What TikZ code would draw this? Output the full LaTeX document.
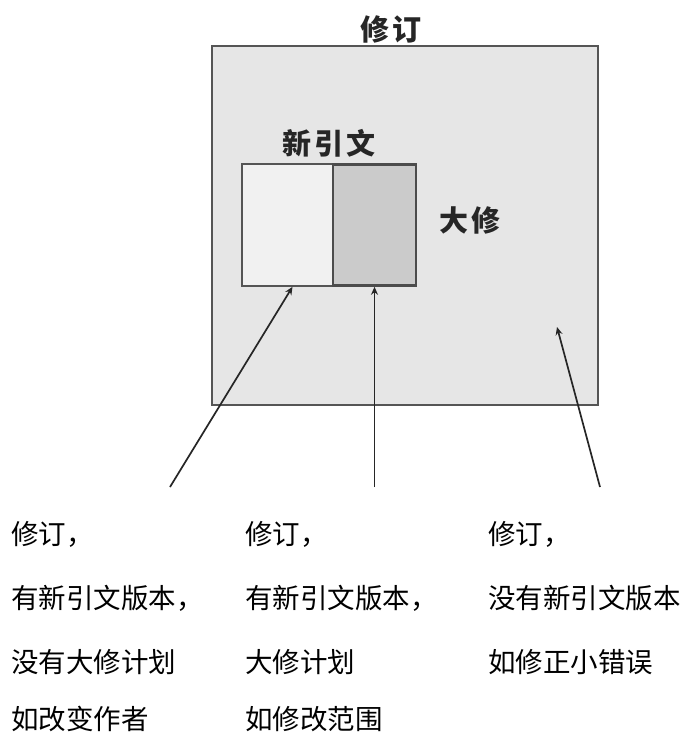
\documentclass[tikz,border=0pt]{standalone}
\usepackage{fontspec}
\setmainfont{Liberation Serif}
\newfontfamily\cjk{Noto Sans CJK SC}
\usetikzlibrary{arrows.meta}
\definecolor{outerfill}{HTML}{E6E6E6}
\definecolor{lightfill}{HTML}{F1F1F1}
\definecolor{darkfill}{HTML}{CBCBCB}
\definecolor{edge}{HTML}{555555}
\tikzset{
  box/.style={draw=edge, line width=1.6pt, inner sep=0pt},
  boldlabel/.style={font=\cjk\bfseries\fontsize{29}{32}\selectfont, text=black!85, inner sep=0pt},
  note/.style={font=\cjk\fontsize{27.5}{31}\selectfont, anchor=west, inner sep=0pt},
  arr/.style={draw=black!85, line width=1.7pt, -{Stealth[length=8pt,width=7pt]}}
}
\begin{document}
\begin{tikzpicture}[x=1pt,y=-1pt]
\useasboundingbox[fill=white] (0,0) rectangle (684,735);
% boxes
\node[box, fill=outerfill, minimum width=386pt, minimum height=359pt] (rev) at (405,225.5) {};
\node[box, fill=lightfill, minimum width=91pt, minimum height=122pt] (newc) at (287.5,225) {};
\node[box, fill=darkfill, draw=black!70, line width=2.6pt, minimum width=83pt, minimum height=121pt] (major) at (374.5,225) {};
% labels
\node[boldlabel] (t) at (391,29) {修\kern4pt 订};
\node[boldlabel] (tn) at (329,143) {新\kern3pt 引\kern3pt 文};
\node[boldlabel] (tm) at (470,220) {大\kern3pt 修};
% arrow tails / free tip
\coordinate (a1) at (170,487);
\coordinate (a2) at (374.5,487);
\coordinate (a3) at (600,487);
\coordinate (t3) at (557,327);
\draw[arr] (a1) -- ([xshift=5pt]newc.south);
\draw[arr] (a2) -- (major.south);
\draw[arr] (a3) -- (t3);
% notes
\node[note] (c1r1) at (11,534) {修订，};
\node[note] (c1r2) at (11,598) {有新引文版本，};
\node[note] (c1r3) at (11,662) {没有大修计划};
\node[note] (c1r4) at (11,719) {如改变作者};
\node[note] (c2r1) at (245,534) {修订，};
\node[note] (c2r2) at (245,598) {有新引文版本，};
\node[note] (c2r3) at (245,662) {大修计划};
\node[note] (c2r4) at (245,719) {如修改范围};
\node[note] (c3r1) at (488,534) {修订，};
\node[note] (c3r2) at (488,598) {没有新引文版本};
\node[note] (c3r3) at (488,662) {如修正小错误};
\end{tikzpicture}
\end{document}
